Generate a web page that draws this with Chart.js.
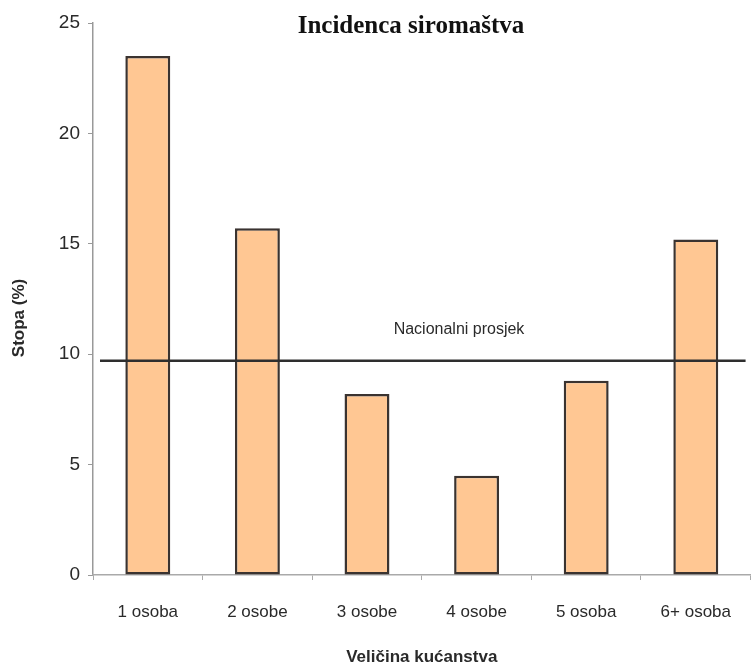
<!DOCTYPE html>
<html>
<head>
<meta charset="utf-8">
<script src="https://cdn.jsdelivr.net/npm/chart.js@4"></script>
<style>
  body { margin: 0; background: #fff; }
  #wrap { width: 753px; height: 669px; position: relative; }
</style>
</head>
<body>
<div id="wrap"><canvas id="povertyChart"></canvas></div>
<script>
const categories = ['1 osoba', '2 osobe', '3 osobe', '4 osobe', '5 osoba', '6+ osoba'];
const rates = [23.5, 15.7, 8.2, 4.5, 8.8, 15.2];
const nationalAvg = 9.7;
const nationalLabel = 'Nacionalni prosjek';
const chartTitle = 'Incidenca siromaštva';
const yTitle = 'Stopa (%)';

// national average line + its label, the title inside the plot and the y title
const overlayPlugin = {
    id: 'overlay',
    afterDatasetsDraw(chart) {
        const { ctx, chartArea, scales } = chart;
        const y = scales.y.getPixelForValue(nationalAvg);
        ctx.save();
        ctx.strokeStyle = '#2e2e2e';
        ctx.lineWidth = 2.5;
        ctx.beginPath();
        ctx.moveTo(chartArea.left + 7, y);
        ctx.lineTo(chartArea.right - 5, y);
        ctx.stroke();

        ctx.fillStyle = '#2a2a2a';
        ctx.textAlign = 'center';
        ctx.textBaseline = 'middle';
        ctx.font = '16px "Liberation Sans", Arial, sans-serif';
        ctx.fillText(nationalLabel, 459, y - 31);

        ctx.font = 'bold 25px "Liberation Serif", "Times New Roman", serif';
        ctx.fillStyle = '#111';
        ctx.fillText(chartTitle, 411, 27);

        ctx.translate(19, 318);
        ctx.rotate(-Math.PI / 2);
        ctx.font = 'bold 17px "Liberation Sans", Arial, sans-serif';
        ctx.fillStyle = '#2a2a2a';
        ctx.fillText(yTitle, 0, 0);
        ctx.restore();
    }
};

Chart.defaults.font.family = '"Liberation Sans", Arial, sans-serif';
Chart.defaults.color = '#2a2a2a';

new Chart(document.getElementById('povertyChart'), {
    type: 'bar',
    data: {
        labels: categories,
        datasets: [{
            data: rates,
            backgroundColor: '#ffc793',
            borderColor: '#3a3330',
            borderWidth: 2.5,
            borderSkipped: false,
            barPercentage: 0.41,
            categoryPercentage: 1
        }]
    },
    options: {
        responsive: true,
        maintainAspectRatio: false,
        animation: false,
        layout: { padding: { top: 23, right: 0, bottom: 0, left: 0 } },
        plugins: { legend: { display: false }, tooltip: { enabled: false } },
        scales: {
            y: {
                min: 0, max: 25,
                ticks: { stepSize: 5, padding: 8, font: { size: 19 }, color: '#2a2a2a' },
                grid: { drawOnChartArea: false, tickLength: 5, color: '#999' },
                border: { color: '#999', width: 1.5 },
                afterFit(scale) { scale.width = 93; }
            },
            x: {
                ticks: { padding: 22, font: { size: 17 }, color: '#2a2a2a' },
                grid: { drawOnChartArea: false, tickLength: 5, color: '#aaa', offset: true },
                border: { color: '#aaa', width: 1.5 },
                title: { display: true, text: 'Veličina kućanstva', font: { size: 17, weight: 'bold' }, color: '#2a2a2a', padding: { top: 4, bottom: 1 } },
                afterFit(scale) { scale.height = 94; }
            }
        }
    },
    plugins: [overlayPlugin]
});
</script>
</body>
</html>
